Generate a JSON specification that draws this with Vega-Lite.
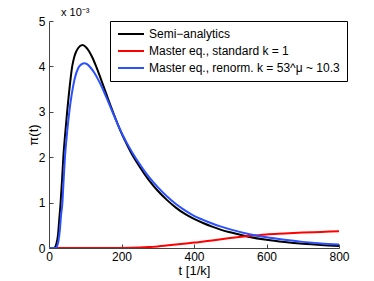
{
  "$schema": "https://vega.github.io/schema/vega-lite/v6.json",
  "autosize": {"type": "none"},
  "padding": {"left": 49, "top": 21, "right": 35, "bottom": 33},
  "width": 290,
  "height": 227,
  "background": "white",
  "title": {"text": "x 10⁻³", "anchor": "start", "frame": "group", "fontSize": 11, "fontWeight": "normal", "font": "Liberation Sans", "color": "black", "offset": -3, "dx": 12},
  "data": {"values": [
    {"series": "Semi−analytics", "t": 0, "pi": 0},
    {"series": "Semi−analytics", "t": 14, "pi": 0},
    {"series": "Semi−analytics", "t": 17, "pi": 0.02},
    {"series": "Semi−analytics", "t": 20, "pi": 0.08},
    {"series": "Semi−analytics", "t": 25, "pi": 0.3},
    {"series": "Semi−analytics", "t": 28, "pi": 0.6},
    {"series": "Semi−analytics", "t": 32, "pi": 1.0},
    {"series": "Semi−analytics", "t": 36, "pi": 1.5},
    {"series": "Semi−analytics", "t": 39.5, "pi": 2.0},
    {"series": "Semi−analytics", "t": 45, "pi": 2.55},
    {"series": "Semi−analytics", "t": 50, "pi": 3.0},
    {"series": "Semi−analytics", "t": 55, "pi": 3.4},
    {"series": "Semi−analytics", "t": 64, "pi": 4.0},
    {"series": "Semi−analytics", "t": 70, "pi": 4.22},
    {"series": "Semi−analytics", "t": 80, "pi": 4.4},
    {"series": "Semi−analytics", "t": 92, "pi": 4.47},
    {"series": "Semi−analytics", "t": 100, "pi": 4.44},
    {"series": "Semi−analytics", "t": 110, "pi": 4.34},
    {"series": "Semi−analytics", "t": 120, "pi": 4.19},
    {"series": "Semi−analytics", "t": 130, "pi": 4.0},
    {"series": "Semi−analytics", "t": 140, "pi": 3.79},
    {"series": "Semi−analytics", "t": 150, "pi": 3.57},
    {"series": "Semi−analytics", "t": 160, "pi": 3.35},
    {"series": "Semi−analytics", "t": 170, "pi": 3.13},
    {"series": "Semi−analytics", "t": 180, "pi": 2.92},
    {"series": "Semi−analytics", "t": 190, "pi": 2.72},
    {"series": "Semi−analytics", "t": 200, "pi": 2.53},
    {"series": "Semi−analytics", "t": 210, "pi": 2.36},
    {"series": "Semi−analytics", "t": 225, "pi": 2.12},
    {"series": "Semi−analytics", "t": 250, "pi": 1.79},
    {"series": "Semi−analytics", "t": 275, "pi": 1.5},
    {"series": "Semi−analytics", "t": 300, "pi": 1.26},
    {"series": "Semi−analytics", "t": 325, "pi": 1.06},
    {"series": "Semi−analytics", "t": 350, "pi": 0.89},
    {"series": "Semi−analytics", "t": 375, "pi": 0.75},
    {"series": "Semi−analytics", "t": 400, "pi": 0.64},
    {"series": "Semi−analytics", "t": 425, "pi": 0.55},
    {"series": "Semi−analytics", "t": 450, "pi": 0.47},
    {"series": "Semi−analytics", "t": 475, "pi": 0.4},
    {"series": "Semi−analytics", "t": 500, "pi": 0.345},
    {"series": "Semi−analytics", "t": 550, "pi": 0.25},
    {"series": "Semi−analytics", "t": 600, "pi": 0.18},
    {"series": "Semi−analytics", "t": 650, "pi": 0.13},
    {"series": "Semi−analytics", "t": 700, "pi": 0.092},
    {"series": "Semi−analytics", "t": 750, "pi": 0.065},
    {"series": "Semi−analytics", "t": 800, "pi": 0.046},

    {"series": "Master eq., standard k = 1", "t": 0, "pi": 0},
    {"series": "Master eq., standard k = 1", "t": 100, "pi": 0},
    {"series": "Master eq., standard k = 1", "t": 200, "pi": 0.002},
    {"series": "Master eq., standard k = 1", "t": 250, "pi": 0.01},
    {"series": "Master eq., standard k = 1", "t": 275, "pi": 0.02},
    {"series": "Master eq., standard k = 1", "t": 300, "pi": 0.035},
    {"series": "Master eq., standard k = 1", "t": 350, "pi": 0.075},
    {"series": "Master eq., standard k = 1", "t": 400, "pi": 0.12},
    {"series": "Master eq., standard k = 1", "t": 450, "pi": 0.165},
    {"series": "Master eq., standard k = 1", "t": 500, "pi": 0.22},
    {"series": "Master eq., standard k = 1", "t": 550, "pi": 0.265},
    {"series": "Master eq., standard k = 1", "t": 600, "pi": 0.3},
    {"series": "Master eq., standard k = 1", "t": 650, "pi": 0.32},
    {"series": "Master eq., standard k = 1", "t": 700, "pi": 0.34},
    {"series": "Master eq., standard k = 1", "t": 750, "pi": 0.355},
    {"series": "Master eq., standard k = 1", "t": 800, "pi": 0.37},

    {"series": "Master eq., renorm. k = 53^μ ~ 10.3", "t": 0, "pi": 0},
    {"series": "Master eq., renorm. k = 53^μ ~ 10.3", "t": 19, "pi": 0},
    {"series": "Master eq., renorm. k = 53^μ ~ 10.3", "t": 22, "pi": 0.03},
    {"series": "Master eq., renorm. k = 53^μ ~ 10.3", "t": 26, "pi": 0.15},
    {"series": "Master eq., renorm. k = 53^μ ~ 10.3", "t": 30, "pi": 0.4},
    {"series": "Master eq., renorm. k = 53^μ ~ 10.3", "t": 33, "pi": 0.7},
    {"series": "Master eq., renorm. k = 53^μ ~ 10.3", "t": 37, "pi": 1.0},
    {"series": "Master eq., renorm. k = 53^μ ~ 10.3", "t": 40, "pi": 1.45},
    {"series": "Master eq., renorm. k = 53^μ ~ 10.3", "t": 44, "pi": 2.0},
    {"series": "Master eq., renorm. k = 53^μ ~ 10.3", "t": 50, "pi": 2.55},
    {"series": "Master eq., renorm. k = 53^μ ~ 10.3", "t": 56, "pi": 3.0},
    {"series": "Master eq., renorm. k = 53^μ ~ 10.3", "t": 62, "pi": 3.35},
    {"series": "Master eq., renorm. k = 53^μ ~ 10.3", "t": 70, "pi": 3.7},
    {"series": "Master eq., renorm. k = 53^μ ~ 10.3", "t": 81, "pi": 3.97},
    {"series": "Master eq., renorm. k = 53^μ ~ 10.3", "t": 90, "pi": 4.05},
    {"series": "Master eq., renorm. k = 53^μ ~ 10.3", "t": 98, "pi": 4.07},
    {"series": "Master eq., renorm. k = 53^μ ~ 10.3", "t": 105, "pi": 4.05},
    {"series": "Master eq., renorm. k = 53^μ ~ 10.3", "t": 115, "pi": 3.97},
    {"series": "Master eq., renorm. k = 53^μ ~ 10.3", "t": 125, "pi": 3.86},
    {"series": "Master eq., renorm. k = 53^μ ~ 10.3", "t": 135, "pi": 3.72},
    {"series": "Master eq., renorm. k = 53^μ ~ 10.3", "t": 145, "pi": 3.56},
    {"series": "Master eq., renorm. k = 53^μ ~ 10.3", "t": 155, "pi": 3.38},
    {"series": "Master eq., renorm. k = 53^μ ~ 10.3", "t": 165, "pi": 3.19},
    {"series": "Master eq., renorm. k = 53^μ ~ 10.3", "t": 175, "pi": 3.0},
    {"series": "Master eq., renorm. k = 53^μ ~ 10.3", "t": 185, "pi": 2.81},
    {"series": "Master eq., renorm. k = 53^μ ~ 10.3", "t": 195, "pi": 2.63},
    {"series": "Master eq., renorm. k = 53^μ ~ 10.3", "t": 205, "pi": 2.46},
    {"series": "Master eq., renorm. k = 53^μ ~ 10.3", "t": 215, "pi": 2.31},
    {"series": "Master eq., renorm. k = 53^μ ~ 10.3", "t": 230, "pi": 2.1},
    {"series": "Master eq., renorm. k = 53^μ ~ 10.3", "t": 250, "pi": 1.85},
    {"series": "Master eq., renorm. k = 53^μ ~ 10.3", "t": 275, "pi": 1.57},
    {"series": "Master eq., renorm. k = 53^μ ~ 10.3", "t": 300, "pi": 1.34},
    {"series": "Master eq., renorm. k = 53^μ ~ 10.3", "t": 325, "pi": 1.14},
    {"series": "Master eq., renorm. k = 53^μ ~ 10.3", "t": 350, "pi": 0.97},
    {"series": "Master eq., renorm. k = 53^μ ~ 10.3", "t": 375, "pi": 0.83},
    {"series": "Master eq., renorm. k = 53^μ ~ 10.3", "t": 400, "pi": 0.71},
    {"series": "Master eq., renorm. k = 53^μ ~ 10.3", "t": 425, "pi": 0.62},
    {"series": "Master eq., renorm. k = 53^μ ~ 10.3", "t": 450, "pi": 0.54},
    {"series": "Master eq., renorm. k = 53^μ ~ 10.3", "t": 475, "pi": 0.47},
    {"series": "Master eq., renorm. k = 53^μ ~ 10.3", "t": 500, "pi": 0.41},
    {"series": "Master eq., renorm. k = 53^μ ~ 10.3", "t": 550, "pi": 0.31},
    {"series": "Master eq., renorm. k = 53^μ ~ 10.3", "t": 600, "pi": 0.235},
    {"series": "Master eq., renorm. k = 53^μ ~ 10.3", "t": 650, "pi": 0.18},
    {"series": "Master eq., renorm. k = 53^μ ~ 10.3", "t": 700, "pi": 0.135},
    {"series": "Master eq., renorm. k = 53^μ ~ 10.3", "t": 750, "pi": 0.1},
    {"series": "Master eq., renorm. k = 53^μ ~ 10.3", "t": 800, "pi": 0.075}
  ]},
  "mark": {"type": "line", "strokeWidth": 2, "interpolate": "monotone", "clip": true},
  "encoding": {
    "x": {"field": "t", "type": "quantitative",
      "scale": {"domain": [0, 800], "nice": false},
      "axis": {"title": "t [1/k]", "values": [0, 200, 400, 600, 800], "grid": false, "labelFlush": false,
        "tickSize": -4, "labelPadding": 7, "titlePadding": 2}},
    "y": {"field": "pi", "type": "quantitative",
      "scale": {"domain": [0, 5], "nice": false},
      "axis": {"title": "π(t)", "values": [0, 1, 2, 3, 4, 5], "grid": false, "labelFlush": false,
        "tickSize": -4, "labelPadding": 8, "titlePadding": -2}},
    "color": {"field": "series", "type": "nominal",
      "scale": {"domain": ["Semi−analytics", "Master eq., standard k = 1", "Master eq., renorm. k = 53^μ ~ 10.3"],
        "range": ["#000000", "#ff0000", "#2b50ff"]},
      "legend": {"title": null, "orient": "none", "legendX": 61, "legendY": 0,
        "strokeColor": "#000000", "fillColor": "white", "padding": 7,
        "symbolType": "stroke", "symbolSize": 676, "symbolStrokeWidth": 2, "clipHeight": 12,
        "labelFontSize": 12, "labelOffset": 4, "rowPadding": 5, "labelLimit": 300}}
  },
  "config": {
    "font": "Liberation Sans",
    "view": {"stroke": null},
    "axis": {"domainColor": "#444444", "tickColor": "#444444", "labelColor": "#000000",
      "labelFontSize": 12, "titleFontSize": 13, "titleFontWeight": "normal", "titleColor": "#000000",
      "labelFont": "Liberation Sans", "titleFont": "Liberation Sans"},
    "legend": {"labelFont": "Liberation Sans", "labelColor": "#000000"}
  }
}
